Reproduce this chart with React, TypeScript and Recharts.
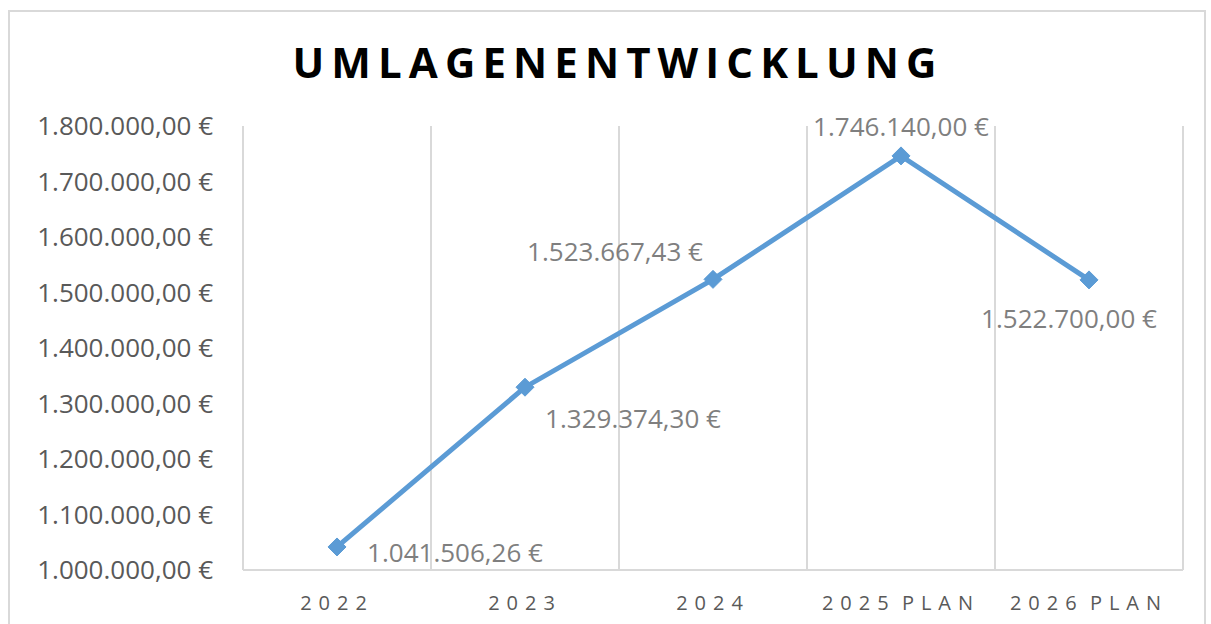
import React from 'react';
import { ComposedChart, Line, XAxis, YAxis, CartesianGrid, LabelList } from 'recharts';

const categories = ['2022', '2023', '2024', '2025 PLAN', '2026 PLAN'];
const umlagen = [1041506.26, 1329374.3, 1523667.43, 1746140.0, 1522700.0];
const yTicks = [1000000, 1100000, 1200000, 1300000, 1400000, 1500000, 1600000, 1700000, 1800000];

// label offset per point (dx = text centre from point, dy = text middle from point)
const LABEL_OFFSETS = [
  { dx: 118, dy: 5 },
  { dx: 108, dy: 31 },
  { dx: -98, dy: -28 },
  { dx: 0, dy: -30 },
  { dx: -20, dy: 38 },
];

const BLUE = '#5b9bd5';
const GRID = '#d9d9d9';
const FONT = '"Open Sans", "Liberation Sans", sans-serif';

const data = categories.map((year, i) => ({ year, value: umlagen[i] }));

// 1234567.8 -> "1.234.567,80 €"
const formatEuro = (v: number) => {
  const [int, dec] = v.toFixed(2).split('.');
  const grouped = int.replace(/\B(?=(\d{3})+(?!\d))/g, '.');
  return `${grouped},${dec} €`;
};

const Diamond = (props: any) => {
  const { cx, cy, index } = props;
  const r = 9;
  return (
    <path
      key={`dot-${index}`}
      d={`M${cx},${cy - r} L${cx + r},${cy} L${cx},${cy + r} L${cx - r},${cy} Z`}
      fill={BLUE}
      stroke={BLUE}
    />
  );
};

const renderLabel = (props: any) => {
  const { x, y, value, index } = props;
  const off = LABEL_OFFSETS[index] || { dx: 0, dy: -20 };
  return (
    <text
      x={x + off.dx}
      y={y + off.dy}
      textAnchor="middle"
      dominantBaseline="central"
      fill="#7f7f7f"
      fontSize={26}
      fontFamily={FONT}
    >
      {formatEuro(value)}
    </text>
  );
};

export default function App() {
  return (
    <div style={{ position: 'absolute', left: 0, top: 0, width: 1211, height: 624, background: '#fff', overflow: 'hidden' }}>
      {/* chart frame */}
      <div
        style={{
          position: 'absolute',
          left: 8,
          top: 10,
          width: 1198,
          height: 700,
          border: `2px solid ${GRID}`,
          boxSizing: 'border-box',
        }}
      />
      <div
        style={{
          position: 'absolute',
          left: 0,
          top: 33,
          width: 1236,
          textAlign: 'center',
          fontFamily: FONT,
          fontWeight: 700,
          fontSize: 42,
          letterSpacing: 7.1,
          color: '#000',
        }}
      >
        UMLAGENENTWICKLUNG
      </div>
      <ComposedChart
        width={1211}
        height={624}
        data={data}
        margin={{ top: 126, right: 28, bottom: 0, left: 0 }}
        style={{ position: 'absolute', left: 0, top: 0 }}
      >
        <CartesianGrid
          horizontal={false}
          stroke={GRID}
          strokeWidth={2}
          verticalCoordinatesGenerator={({ offset }: any) =>
            [...categories.map((_, i) => offset.left + (i * offset.width) / categories.length), offset.left + offset.width]
          }
        />
        <XAxis
          dataKey="year"
          scale="band"
          height={54}
          axisLine={{ stroke: GRID, strokeWidth: 2 }}
          tickLine={false}
          tickMargin={20}
          tick={{ fill: '#595959', fontSize: 20, fontFamily: FONT, letterSpacing: 7, wordSpacing: -6 }}
          interval={0}
        />
        <YAxis
          domain={[1000000, 1800000]}
          ticks={yTicks}
          axisLine={false}
          tickLine={false}
          tickSize={0}
          tickMargin={30}
          width={243}
          tickFormatter={formatEuro}
          tick={{ fill: '#595959', fontSize: 26, fontFamily: FONT }}
          interval={0}
        />
        <Line
          type="linear"
          dataKey="value"
          stroke={BLUE}
          strokeWidth={5}
          dot={Diamond}
          activeDot={false}
          isAnimationActive={false}
        >
          <LabelList dataKey="value" content={renderLabel} />
        </Line>
      </ComposedChart>
    </div>
  );
}
